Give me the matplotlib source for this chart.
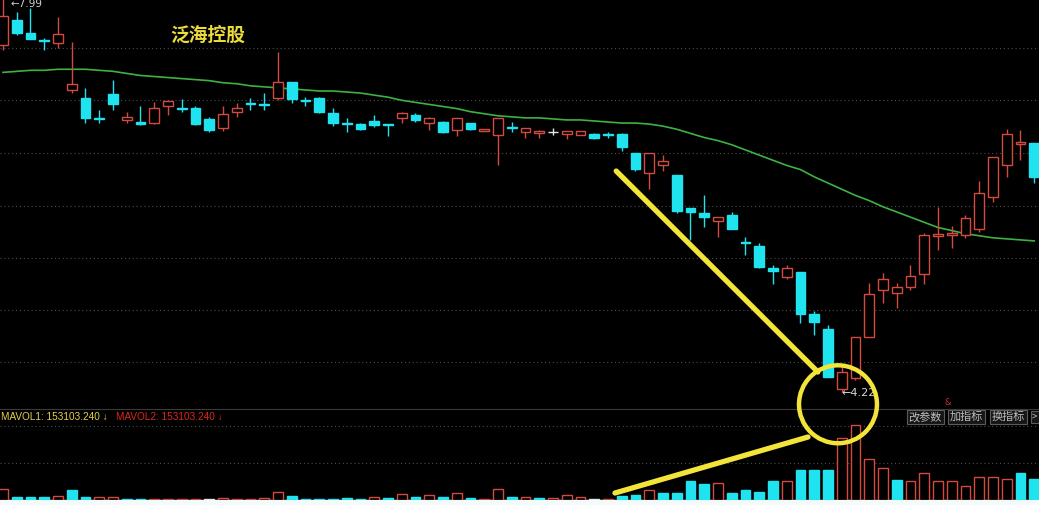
import numpy as np
import matplotlib
matplotlib.use('Agg')
import matplotlib.pyplot as plt
from matplotlib.patches import Ellipse, Rectangle

plt.rcParams['font.family'] = ['Noto Sans CJK SC', 'DejaVu Sans']

# ---- daily candles (open / high / low / close) ----
opens = [7.57, 7.82, 7.69, 7.62, 7.59, 7.14, 7.06, 6.87, 7.10, 6.85,
         6.83, 6.82, 6.98, 6.97, 6.97, 6.86, 6.77, 6.93, 7.01, 7.00,
         7.06, 7.22, 7.04, 7.06, 6.92, 6.82, 6.81, 6.84, 6.81, 6.87,
         6.90, 6.82, 6.83, 6.75, 6.82, 6.74, 6.70, 6.78, 6.73, 6.72,
         6.73, 6.71, 6.70, 6.71, 6.71, 6.71, 6.53, 6.34, 6.41, 6.32,
         6.00, 5.95, 5.87, 5.93, 5.67, 5.63, 5.42, 5.33, 5.38, 4.97,
         4.83, 4.25, 4.35, 4.75, 5.21, 5.18, 5.23, 5.36, 5.73, 5.74,
         5.74, 5.80, 6.10, 6.41, 6.62, 6.63]
highs = [8.04, 7.89, 7.93, 7.64, 7.85, 7.60, 7.16, 6.95, 7.24, 6.93,
         6.98, 7.02, 7.04, 7.05, 6.98, 6.88, 6.98, 7.01, 7.06, 7.11,
         7.51, 7.22, 7.07, 7.07, 6.97, 6.87, 6.82, 6.90, 6.81, 6.93,
         6.92, 6.88, 6.84, 6.87, 6.82, 6.76, 6.87, 6.83, 6.77, 6.75,
         6.77, 6.74, 6.74, 6.72, 6.73, 6.72, 6.53, 6.53, 6.51, 6.32,
         6.00, 6.12, 5.91, 5.96, 5.72, 5.66, 5.45, 5.45, 5.38, 5.00,
         4.87, 4.48, 4.75, 5.27, 5.37, 5.27, 5.45, 5.76, 6.01, 5.82,
         5.93, 6.26, 6.49, 6.76, 6.75, 6.63]
lows = [7.53, 7.67, 7.63, 7.53, 7.55, 7.11, 6.82, 6.82, 6.95, 6.82,
        6.80, 6.81, 6.90, 6.93, 6.80, 6.73, 6.74, 6.88, 6.95, 6.95,
        7.04, 7.01, 6.98, 6.92, 6.79, 6.73, 6.75, 6.78, 6.69, 6.82,
        6.83, 6.75, 6.72, 6.69, 6.75, 6.74, 6.41, 6.73, 6.68, 6.68,
        6.70, 6.67, 6.70, 6.67, 6.68, 6.55, 6.36, 6.18, 6.36, 5.95,
        5.69, 5.81, 5.72, 5.80, 5.54, 5.42, 5.26, 5.31, 4.89, 4.77,
        4.36, 4.22, 4.33, 4.75, 5.08, 5.03, 5.21, 5.26, 5.59, 5.61,
        5.71, 5.77, 6.06, 6.30, 6.46, 6.24]
closes = [7.86, 7.69, 7.63, 7.61, 7.68, 7.20, 6.87, 6.86, 7.00, 6.88,
          6.81, 6.97, 7.03, 6.96, 6.81, 6.75, 6.91, 6.97, 7.00, 6.99,
          7.22, 7.05, 7.03, 6.93, 6.82, 6.81, 6.76, 6.80, 6.80, 6.92,
          6.85, 6.87, 6.73, 6.87, 6.76, 6.76, 6.87, 6.77, 6.77, 6.74,
          6.73, 6.74, 6.74, 6.68, 6.70, 6.59, 6.38, 6.53, 6.45, 5.97,
          5.96, 5.91, 5.91, 5.80, 5.66, 5.43, 5.39, 5.42, 4.97, 4.90,
          4.36, 4.41, 4.75, 5.17, 5.31, 5.23, 5.34, 5.74, 5.75, 5.76,
          5.90, 6.14, 6.49, 6.71, 6.64, 6.30]

# moving average line (green)
ma = [7.31, 7.32, 7.33, 7.33, 7.34, 7.34, 7.34, 7.33, 7.32, 7.30,
      7.28, 7.27, 7.26, 7.25, 7.24, 7.23, 7.21, 7.20, 7.18, 7.17,
      7.16, 7.15, 7.14, 7.13, 7.13, 7.12, 7.11, 7.09, 7.07, 7.04,
      7.02, 7.00, 6.98, 6.96, 6.93, 6.91, 6.89, 6.88, 6.87, 6.87,
      6.86, 6.85, 6.85, 6.84, 6.83, 6.82, 6.82, 6.81, 6.79, 6.76,
      6.72, 6.68, 6.65, 6.61, 6.56, 6.51, 6.46, 6.41, 6.37, 6.30,
      6.24, 6.18, 6.12, 6.07, 6.01, 5.96, 5.91, 5.86, 5.81, 5.78,
      5.75, 5.73, 5.71, 5.70, 5.69, 5.68]

# volume
volumes = [66000, 18000, 18000, 18000, 24000, 60000, 18000, 18000, 18000, 9000,
           9000, 6000, 6000, 6000, 6000, 9000, 12000, 6000, 6000, 12000,
           48000, 24000, 9000, 9000, 9000, 12000, 6000, 18000, 12000, 36000,
           18000, 30000, 18000, 42000, 12000, 6000, 66000, 18000, 18000, 12000,
           12000, 30000, 18000, 9000, 6000, 24000, 33000, 60000, 42000, 45000,
           117000, 96000, 105000, 42000, 63000, 51000, 117000, 114000, 180000, 180000,
           180000, 372000, 450000, 246000, 192000, 120000, 117000, 162000, 114000, 114000,
           84000, 138000, 138000, 126000, 162000, 126000]
vol_kind = list("rcccrccrrc" "crrrrwrrrr" "rccccccrcr" "crcrcrrcrc"
                "rrrwrccrcc" "ccrccccrcc" "crrrrcrrrr" "rrrrcc")

price_grid = [7.546, 7.043, 6.530, 6.018, 5.515, 5.012, 4.509]
vol_grid = [222000, 444000]

RED = '#d24b40'
CYAN = '#20e3f0'
WHITE = '#e4e4e4'
YEL = '#f3e43a'
GREEN = '#3db243'

o = np.array(opens); c = np.array(closes)
h = np.array(highs); l = np.array(lows)
x = np.arange(len(o))

col = np.where(c > o, RED, np.where(c < o, CYAN, WHITE))
face = np.where(c > o, 'black', col)
top = np.maximum(o, c)
bot = np.minimum(o, c)

fig = plt.figure(figsize=(10.39, 5.05), dpi=100, facecolor='black')
H = 505.0
ax_vol = fig.add_axes([0, 5 / H, 1, 91 / H])
ax = fig.add_axes([0, 97 / H, 1, 408 / H])
ax.set_zorder(2)
ax_vol.set_zorder(1)
for a in (ax, ax_vol):
    a.set_facecolor('none')
    for s in a.spines.values():
        s.set_visible(False)
    a.set_xlim(-0.218, 75.35)
    a.set_xticks([])
    a.tick_params(left=False, labelleft=False, bottom=False, labelbottom=False)

# ---- price panel ----
ax.set_ylim(4.064, 8.01)
ax.set_yticks(price_grid)
ax.yaxis.grid(True, linestyle=(0, (1, 2.5)), color='#4d4d4d', lw=0.8)

ax.vlines(x, top, h, colors=col, lw=1, zorder=3)
ax.vlines(x, l, bot, colors=col, lw=1, zorder=3)
ax.bar(x, np.maximum(top - bot, 0.004), bottom=bot, width=0.7,
       color=face, edgecolor=col, linewidth=1, zorder=4)
ax.plot(x, ma, color=GREEN, lw=1.2, zorder=2)

ax.text(0.2, 0.914, '泛海控股', transform=ax.transAxes, color='#ecdc3a',
        fontsize=13.5, fontweight='bold', ha='center', va='center')
ax.text(0.55, 7.975, '←7.99', color='#d0d0d0', fontsize=7.5, ha='left', va='center',
        family=['DejaVu Sans'])
ax.text(61.0, 4.21, '←4.22', color='#d8d8d8', fontsize=8, ha='left', va='center',
        family=['DejaVu Sans'], zorder=6)
ax.text(68.7, 4.12, '&', color='#c8302a', fontsize=6, ha='center', va='center',
        family=['DejaVu Sans'])

# yellow hand annotations
ax.plot([44.6, 59.27], [6.356, 4.412], color=YEL, lw=3.8,
        solid_capstyle='round', zorder=9)
ax.add_patch(Ellipse((60.73, 4.10), 5.67, 0.754, fill=False, ec=YEL, lw=3.2,
                     zorder=10, clip_on=False))

# ---- volume panel ----
ax_vol.set_ylim(0, 546000)
ax_vol.set_yticks(vol_grid)
ax_vol.yaxis.grid(True, linestyle=(0, (1, 2.5)), color='#4d4d4d', lw=0.8)
ax_vol.spines['top'].set_visible(True)
ax_vol.spines['top'].set_color('#3a3a3a')

vcol = [RED if k == 'r' else (CYAN if k == 'c' else WHITE) for k in vol_kind]
vface = ['black' if k == 'r' else cc for k, cc in zip(vol_kind, vcol)]
ax_vol.bar(x, volumes, width=0.7, color=vface, edgecolor=vcol, linewidth=1, zorder=3)

ax_vol.plot([44.51, 58.55], [42000, 378000], color=YEL, lw=3.8,
            solid_capstyle='round', zorder=9, clip_on=False)

ax_vol.text(0.001, 0.912, 'MAVOL1: 153103.240 ↓', transform=ax_vol.transAxes,
            color='#e2d24a', fontsize=7.2, ha='left', va='center',
            family=['Liberation Sans', 'DejaVu Sans'])
ax_vol.text(0.1115, 0.912, 'MAVOL2: 153103.240 ↓', transform=ax_vol.transAxes,
            color='#e0251f', fontsize=7.2, ha='left', va='center',
            family=['Liberation Sans', 'DejaVu Sans'])

for label, xc in [('改参数', 925.5), ('加指标', 966.5), ('换指标', 1008.5)]:
    ax_vol.text(xc / 1039, 0.912, label, transform=ax_vol.transAxes,
                color='#bdbdbd', fontsize=8, ha='center', va='center',
                bbox=dict(boxstyle='square,pad=0.18', fc='#161616', ec='#5c5c5c', lw=0.8))
ax_vol.text(1037.5 / 1039, 0.912, '>', transform=ax_vol.transAxes,
            color='#bdbdbd', fontsize=7, ha='right', va='center',
            bbox=dict(boxstyle='square,pad=0.15', fc='#161616', ec='#5c5c5c', lw=0.8))

# light strip along the bottom edge
fig.patches.append(Rectangle((0, 0), 1, 5 / H, transform=fig.transFigure,
                             color='#f2fafa', zorder=0))

fig.savefig('out.png', dpi=100, facecolor='black')
